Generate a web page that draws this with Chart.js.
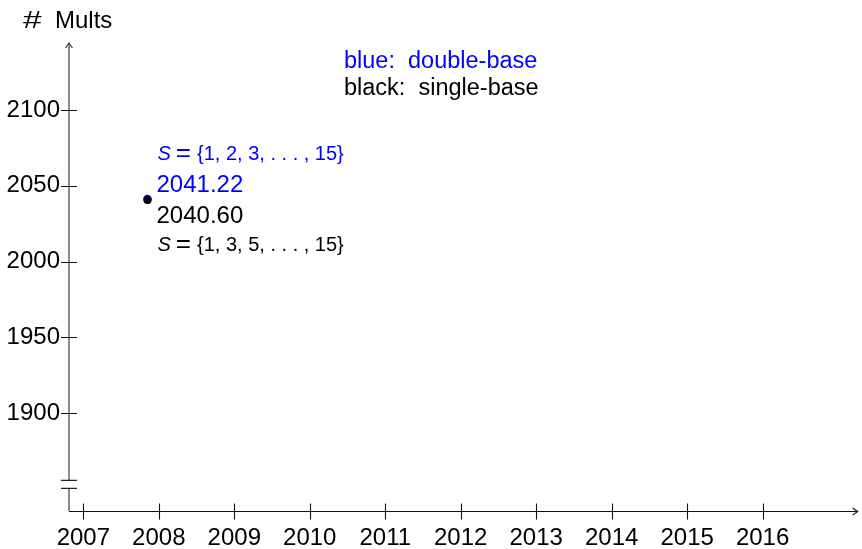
<!DOCTYPE html>
<html>
<head>
<meta charset="utf-8">
<script src="https://cdn.jsdelivr.net/npm/chart.js@4.4.1/dist/chart.umd.min.js"></script>
<style>
  html, body { margin: 0; padding: 0; background: #fff; }
  #wrap { width: 862px; height: 549px; position: relative; }
</style>
</head>
<body>
<div id="wrap"><canvas id="c"></canvas></div>
<script>
// Year axis ticks and the visible window of both axes
const yearTicks = [2007, 2008, 2009, 2010, 2011, 2012, 2013, 2014, 2015, 2016];
const multTicks = [1900, 1950, 2000, 2050, 2100];
const xWindow = [2006.81, 2017.26];
const yWindow = [1835.3, 2144.3];
// Axis break shown on the multiplication axis (values between the two strokes)
const yBreakValues = [1850.2, 1855.5];

// Measured results
const runYear = [2007.85];
const doubleBaseMults = [2041.22];
const singleBaseMults = [2040.60];
const doubleBaseSet = ['{1, 2, 3, . . . , 15}'];
const singleBaseSet = ['{1, 3, 5, . . . , 15}'];

const yTitle = ['#', 'Mults'];
const legendLines = [
  { text: 'blue:  double-base', color: '#0000ff' },
  { text: 'black:  single-base', color: '#000000' }
];

const SANS = '"Liberation Sans", Arial, sans-serif';
const BLUE = '#0000ff';

function arrowHead(ctx, x, y, dir) {
  // open arrow tip
  ctx.save();
  ctx.translate(x, y);
  ctx.rotate(dir);
  ctx.beginPath();
  ctx.moveTo(-5, -3.5);
  ctx.quadraticCurveTo(-1.5, -1, 0, 0);
  ctx.quadraticCurveTo(-1.5, 1, -5, 3.5);
  ctx.stroke();
  ctx.restore();
}

const axisPlugin = {
  id: 'axisPlugin',
  afterDraw(chart) {
    const { ctx, chartArea: ca, scales } = chart;
    const xs = scales.x, ys = scales.y;
    ctx.save();
    ctx.lineCap = 'butt';

    // vertical axis with break
    const bLo = ys.getPixelForValue(yBreakValues[0]);
    const bHi = ys.getPixelForValue(yBreakValues[1]);
    const ax = ca.left;
    ctx.strokeStyle = '#6f6f6f';
    ctx.lineWidth = 1.6;
    ctx.beginPath();
    ctx.moveTo(ax, ca.bottom);
    ctx.lineTo(ax, bLo);
    ctx.moveTo(ax, bHi);
    ctx.lineTo(ax, ca.top + 1);
    ctx.stroke();
    ctx.lineWidth = 1.2;
    ctx.strokeStyle = '#333';
    arrowHead(ctx, ax, ca.top, -Math.PI / 2);

    // break strokes
    ctx.strokeStyle = '#222';
    ctx.lineWidth = 1.3;
    ctx.beginPath();
    [bLo, bHi].forEach(py => {
      ctx.moveTo(ax - 8, py);
      ctx.lineTo(ax + 8, py);
    });
    ctx.stroke();

    // horizontal axis
    const ay = ca.bottom + 0.5;
    ctx.strokeStyle = '#111';
    ctx.lineWidth = 1.1;
    ctx.beginPath();
    ctx.moveTo(ax, ay);
    ctx.lineTo(ca.right - 1, ay);
    ctx.stroke();
    arrowHead(ctx, ca.right, ay, 0);

    // tick marks crossing the axes
    ctx.strokeStyle = '#111';
    ctx.lineWidth = 1.1;
    ctx.beginPath();
    yearTicks.forEach(v => {
      const px = Math.round(xs.getPixelForValue(v)) + 0.5;
      ctx.moveTo(px, ay - 8);
      ctx.lineTo(px, ay + 8);
    });
    multTicks.forEach(v => {
      const py = Math.round(ys.getPixelForValue(v)) + 0.5;
      ctx.moveTo(ax - 8, py);
      ctx.lineTo(ax + 8, py);
    });
    ctx.stroke();

    // axis title: a wide hash sign followed by the word
    ctx.fillStyle = '#000';
    ctx.textBaseline = 'middle';
    ctx.textAlign = 'left';
    ctx.save();
    ctx.translate(ax - 46, 21);
    ctx.scale(1.4, 1);
    ctx.font = '24px ' + SANS;
    ctx.fillText(yTitle[0], 0, 0);
    ctx.restore();
    ctx.font = '24px ' + SANS;
    ctx.fillText(yTitle[1], ax - 14, 21);

    // legend lines
    ctx.font = '23.5px ' + SANS;
    legendLines.forEach((l, i) => {
      ctx.fillStyle = l.color;
      ctx.fillText(l.text, ax + 275, 62 + i * 27);
    });
    ctx.restore();
  }
};

function drawSetLabel(ctx, x, y, setText, color) {
  ctx.save();
  ctx.fillStyle = color;
  ctx.textBaseline = 'middle';
  ctx.textAlign = 'left';
  ctx.font = 'italic 20px ' + SANS;
  ctx.fillText('S', x, y);
  let cx = x + ctx.measureText('S').width + 5;
  ctx.font = '26px ' + SANS;
  ctx.fillText('=', cx, y);
  cx += ctx.measureText('=').width + 6;
  ctx.font = '20px ' + SANS;
  ctx.fillText(setText, cx, y);
  ctx.restore();
}

const pointLabelPlugin = {
  id: 'pointLabelPlugin',
  afterDatasetsDraw(chart) {
    const { ctx } = chart;
    const xs = chart.scales.x, ys = chart.scales.y;
    ctx.save();
    ctx.textBaseline = 'middle';
    ctx.textAlign = 'left';
    runYear.forEach((yr, i) => {
      const px = xs.getPixelForValue(yr);
      const pyD = ys.getPixelForValue(doubleBaseMults[i]);
      const pyS = ys.getPixelForValue(singleBaseMults[i]);
      ctx.font = '24px ' + SANS;
      ctx.fillStyle = BLUE;
      ctx.fillText(doubleBaseMults[i].toFixed(2), px + 9, pyD - 14);
      ctx.fillStyle = '#000';
      ctx.fillText(singleBaseMults[i].toFixed(2), px + 9, pyS + 16);
      drawSetLabel(ctx, px + 10, pyD - 45, doubleBaseSet[i], BLUE);
      drawSetLabel(ctx, px + 10, pyS + 45, singleBaseSet[i], '#000');
    });
    ctx.restore();
  }
};

new Chart(document.getElementById('c'), {
  type: 'scatter',
  data: {
    datasets: [
      {
        label: 'single-base',
        data: runYear.map((x, i) => ({ x, y: singleBaseMults[i] })),
        backgroundColor: '#000',
        borderColor: '#000',
        pointRadius: 4,
        borderWidth: 0,
        order: 0
      },
      {
        label: 'double-base',
        data: runYear.map((x, i) => ({ x, y: doubleBaseMults[i] })),
        backgroundColor: BLUE,
        borderColor: BLUE,
        pointRadius: 4.3,
        borderWidth: 0,
        order: 1
      }
    ]
  },
  options: {
    responsive: true,
    maintainAspectRatio: false,
    animation: false,
    layout: { padding: { top: 43, right: 2, left: 0, bottom: 0 } },
    plugins: { legend: { display: false }, tooltip: { enabled: false } },
    scales: {
      x: {
        type: 'linear',
        min: xWindow[0],
        max: xWindow[1],
        grid: { display: false, drawTicks: false, tickLength: 0 },
        border: { display: false },
        afterBuildTicks: s => { s.ticks = yearTicks.map(v => ({ value: v })); },
        afterFit: s => { s.height = 38; },
        ticks: {
          color: '#000',
          font: { family: SANS, size: 24 },
          padding: 13,
          maxRotation: 0,
          autoSkip: false,
          callback: v => String(v)
        }
      },
      y: {
        type: 'linear',
        min: yWindow[0],
        max: yWindow[1],
        grid: { display: false, drawTicks: false, tickLength: 0 },
        border: { display: false },
        afterBuildTicks: s => { s.ticks = multTicks.map(v => ({ value: v })); },
        afterFit: s => { s.width = 69; },
        ticks: {
          color: '#000',
          font: { family: SANS, size: 24 },
          padding: 9,
          autoSkip: false,
          callback: v => String(v)
        }
      }
    }
  },
  plugins: [axisPlugin, pointLabelPlugin]
});
</script>
</body>
</html>
